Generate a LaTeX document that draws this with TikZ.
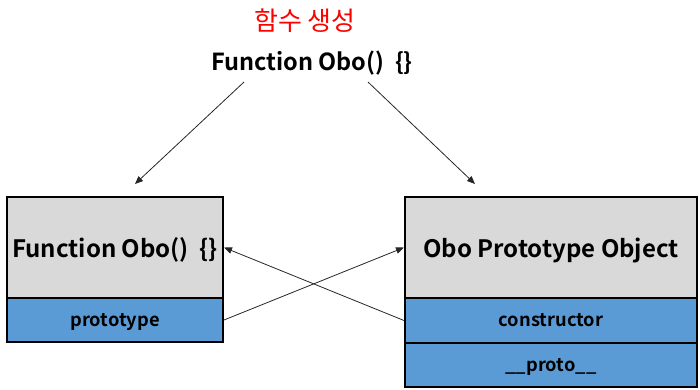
\documentclass[tikz,border=0pt]{standalone}
\usepackage{fontspec}
\setmainfont{Noto Sans CJK KR}[BoldFont={Noto Sans CJK KR Bold}]
\usetikzlibrary{arrows.meta}
\definecolor{boxgray}{HTML}{D9D9D9}
\definecolor{boxblue}{HTML}{5B9BD5}
\tikzset{
  cell/.style={draw=black, line width=2pt, inner sep=0pt, font=\bfseries},
  headcell/.style={cell, fill=boxgray, font=\bfseries\fontsize{24}{28}\selectfont,
    text height=20pt, text depth=0pt},
  fieldcell/.style={cell, fill=boxblue, font=\bfseries\fontsize{18.3}{22}\selectfont,
    text height=12pt, text depth=0pt},
  link/.style={line width=0.8pt, draw=black!85, -{Triangle[length=8pt,width=6.5pt]}}
}
\begin{document}
\begin{tikzpicture}[x=1pt,y=-1pt]
\useasboundingbox (0,0) rectangle (700,389);
\node[text=red, font=\fontsize{26}{30}\selectfont] (title) at (305,21) {함수 생성};
\node[font=\bfseries\fontsize{23.5}{28}\selectfont] (fn) at (312,63) {Function Obo()\hspace{0.45em}\{\}};
\node[headcell, minimum width=216pt, minimum height=101pt] (lf) at (115,247.5) {Function Obo()\hspace{0.45em}\{\}};
\node[fieldcell, minimum width=216pt, minimum height=44pt] (lp) at (115,320) {prototype};
\node[headcell, minimum width=292pt, minimum height=101pt] (rt) at (551,247.5) {Obo Prototype Object};
\node[fieldcell, minimum width=292pt, minimum height=45pt] (rc) at (551,320.5) {constructor};
\node[fieldcell, minimum width=292pt, minimum height=44pt] (rp) at (551,365) {\_\_proto\_\_};
\coordinate (s1) at (244,82);
\coordinate (e1) at (135,184);
\coordinate (s2) at (368,82);
\coordinate (e2) at (475,184);
\draw[link] (s1) -- (e1);
\draw[link] (s2) -- (e2);
\draw[link] (lp.east) -- (rt.west);
\draw[link] (rc.west) -- (lf.east);
\end{tikzpicture}
\end{document}
